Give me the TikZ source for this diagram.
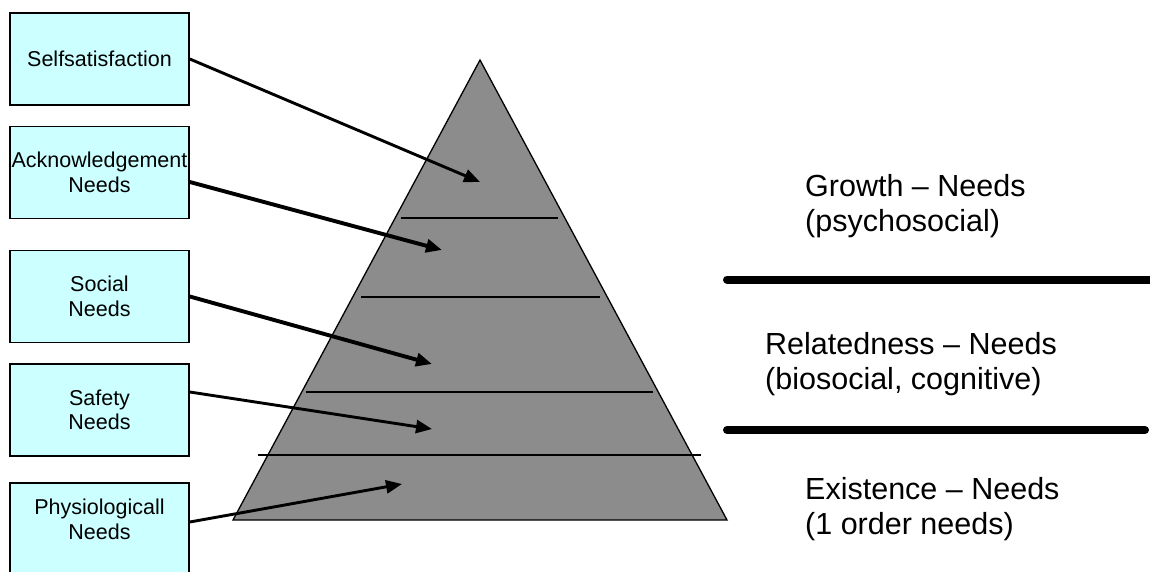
\documentclass[tikz,border=0pt]{standalone}
\usepackage{fontspec}
\setmainfont{Liberation Sans}
\usetikzlibrary{arrows.meta}
\definecolor{boxfill}{HTML}{CCFFFF}
\definecolor{pyrfill}{HTML}{8C8C8C}
\tikzset{
  needbox/.style={draw=black, line width=1.6pt, fill=boxfill, minimum width=179pt, minimum height=92pt,
    inner sep=0pt, align=center, font=\fontsize{21.5}{24.5}\selectfont},
  ptr/.style={line width=2.9pt, -{Triangle[length=16pt,width=13pt]}},
  ptrthick/.style={ptr, line width=3.9pt},
  level/.style={line width=1.1pt},
  divider/.style={line width=8pt, line cap=round},
  erglabel/.style={anchor=west, align=left, inner sep=0pt, font=\fontsize{30.5}{35}\selectfont}
}
\begin{document}
\begin{tikzpicture}[x=1pt,y=-1pt]
\clip (0,0) rectangle (1150,572);
\fill[white] (0,0) rectangle (1150,572);

% pyramid
\coordinate (apex) at (480,60);
\coordinate (bl) at (233,520);
\coordinate (br) at (727,520);
\draw[fill=pyrfill, line width=1.3pt, line join=miter] (apex) -- (bl) -- (br) -- cycle;

% level lines
\coordinate (l1a) at (401,218); \coordinate (l1b) at (558,218);
\coordinate (l2a) at (361,297); \coordinate (l2b) at (600,297);
\coordinate (l3a) at (306,392); \coordinate (l3b) at (653,392);
\coordinate (l4a) at (258,455); \coordinate (l4b) at (701,455);
\draw[level] (l1a) -- (l1b);
\draw[level] (l2a) -- (l2b);
\draw[level] (l3a) -- (l3b);
\draw[level] (l4a) -- (l4b);

% boxes
\node[needbox] (b1) at (99.5,59) {Selfsatisfaction};
\node[needbox] (b2) at (99.5,172.5) {Acknowledgement\\Needs};
\node[needbox] (b3) at (99.5,296.5) {Social\\Needs};
\node[needbox] (b4) at (99.5,410) {Safety\\Needs};
\node[needbox, text depth=20pt] (b5) at (99.5,529) {Physiologicall\\Needs};

% arrow targets
\coordinate (t1) at (480,182);
\coordinate (t2) at (442,250);
\coordinate (t3) at (432,364);
\coordinate (t4) at (432,429);
\coordinate (t5) at (402,484);

\draw[ptr] (b1.east) -- (t1);
\draw[ptrthick] ([yshift=-9.5pt]b2.east) -- (t2);
\draw[ptrthick] (b3.east) -- (t3);
\draw[ptr] ([yshift=18pt]b4.east) -- (t4);
\draw[ptr] ([yshift=7pt]b5.east) -- (t5);

% dividers
\coordinate (d1a) at (727,279.5); \coordinate (d1b) at (1160,279.5);
\coordinate (d2a) at (727,430); \coordinate (d2b) at (1145,430);
\draw[divider] (d1a) -- (d1b);
\draw[divider] (d2a) -- (d2b);

% ERG labels
\node[erglabel] (g) at (805,206) {Growth -- Needs\\(psychosocial)};
\node[erglabel] (r) at (765,364) {Relatedness -- Needs\\(biosocial, cognitive)};
\node[erglabel] (e) at (805,509) {Existence -- Needs\\(1 order needs)};
\end{tikzpicture}
\end{document}
